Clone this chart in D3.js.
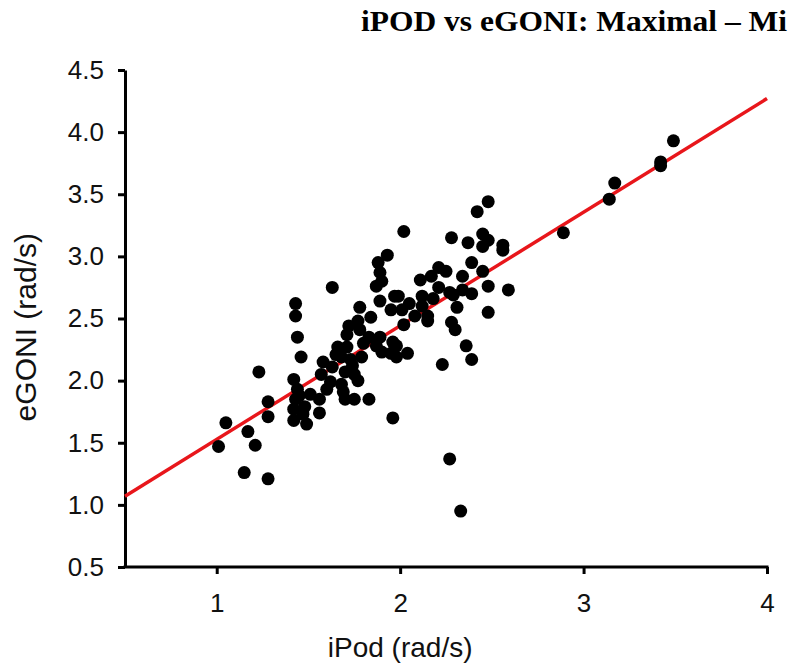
<!DOCTYPE html>
<html>
<head>
<meta charset="utf-8">
<script src="https://cdn.jsdelivr.net/npm/d3@7"></script>
<style>
  body { margin: 0; background: #fff; overflow: hidden; }
  svg { display: block; }
</style>
</head>
<body>
<div id="chart"></div>
<script>
// -----------------------------------------//
//                 Data
// -----------------------------------------//

// the title is cut off in the source picture, kept as shown
var titleText = "iPOD vs eGONI: Maximal \u2013 Mi";
var xTicks = [1, 2, 3, 4];
var yTicks = [0.5, 1.0, 1.5, 2.0, 2.5, 3.0, 3.5, 4.0, 4.5];

// iPod (rad/s)
var ipod = [
  1.01, 1.05, 1.15, 1.17, 1.21, 1.23, 1.28, 1.28, 1.28, 1.42,
  1.43, 1.43, 1.44, 1.46, 1.44, 1.43, 1.42, 1.42, 1.48, 1.49,
  1.51, 1.56, 1.56, 1.57, 1.58, 1.62, 1.63, 1.63, 1.66, 1.68,
  1.68, 1.69, 1.70, 1.70, 1.71, 1.71, 1.73, 1.75, 1.75, 1.77,
  1.77, 1.78, 1.78, 1.79, 1.83, 1.83, 1.84, 1.87, 1.87, 1.88,
  1.89, 1.89, 1.89, 1.90, 1.90, 1.93, 1.95, 1.95, 1.96, 1.96,
  1.97, 1.98, 1.98, 1.99, 2.01, 2.02, 2.02, 2.04, 2.08, 2.11,
  2.12, 2.12, 2.15, 2.15, 2.17, 2.21, 2.21, 2.23, 2.25, 2.27,
  2.27, 2.28, 2.28, 2.29, 2.30, 2.31, 2.34, 2.34, 2.33, 2.36,
  2.37, 2.39, 2.39, 2.39, 2.42, 2.45, 2.48, 2.48, 2.45, 2.56,
  2.56, 2.45, 2.48, 2.48, 2.59, 2.89, 3.14, 3.17, 3.42, 3.42,
  3.49, 1.72, 1.80, 2.05, 2.18, 1.45, 1.47, 1.60, 1.65, 1.74
];
// eGONI (rad/s)
var egoni = [
  1.47, 1.66, 1.26, 1.59, 1.48, 2.07, 1.21, 1.71, 1.83, 2.01,
  2.62, 2.52, 2.35, 2.19, 1.93, 1.85, 1.77, 1.68, 1.79, 1.65,
  1.89, 1.85, 1.74, 2.05, 2.15, 1.99, 2.11, 2.75, 2.27, 2.19,
  1.97, 1.91, 2.07, 1.85, 2.37, 2.27, 2.17, 2.05, 1.85, 2.00,
  2.48, 2.59, 2.41, 2.19, 2.35, 1.85, 2.51, 2.76, 2.28, 2.95,
  2.87, 2.64, 2.35, 2.80, 2.23, 3.01, 2.57, 2.22, 2.31, 1.70,
  2.68, 2.28, 2.19, 2.68, 2.57, 2.45, 3.20, 2.22, 2.52, 2.81,
  2.68, 2.60, 2.52, 2.48, 2.84, 2.91, 2.75, 2.13, 2.88, 1.37,
  2.71, 3.15, 2.47, 2.69, 2.41, 2.59, 2.84, 2.73, 0.95, 2.28,
  3.11, 2.95, 2.70, 2.17, 3.36, 3.18, 3.44, 3.13, 3.08, 3.09,
  3.05, 2.88, 2.76, 2.55, 2.73, 3.19, 3.46, 3.59, 3.73, 3.76,
  3.93, 2.44, 2.30, 2.62, 2.66, 1.88, 1.73, 1.93, 2.21, 2.12
];

// fitted line
var fitX = [0.5, 4.0];
var fitY = [1.07, 4.27];

// -----------------------------------------//
//              SVG Area
// -----------------------------------------//

var svgWidth = 790;
var svgHeight = 668;

var margin = { top: 70, right: 23, bottom: 100, left: 125 };
var width = svgWidth - margin.left - margin.right;
var height = svgHeight - margin.top - margin.bottom;

var svg = d3.select("#chart")
  .append("svg")
  .attr("width", svgWidth)
  .attr("height", svgHeight);

svg.append("text")
  .attr("x", 361)
  .attr("y", 31)
  .attr("textLength", 426)
  .attr("lengthAdjust", "spacingAndGlyphs")
  .style("font-family", "'Liberation Serif', 'Times New Roman', serif")
  .style("font-weight", "bold")
  .style("font-size", "29px")
  .attr("fill", "#000")
  .text(titleText);

var chartGroup = svg.append("g")
  .attr("transform", `translate(${margin.left}, ${margin.top})`);

var xScale = d3.scaleLinear().domain([0.5, 4]).range([0, width]);
var yScale = d3.scaleLinear().domain([0.5, 4.5]).range([height - 1, 0]);

// -----------------------------------------//
//                Axes
// -----------------------------------------//

var bottomAxis = d3.axisBottom(xScale)
  .tickValues(xTicks)
  .tickFormat(d3.format("d"))
  .tickSize(7)
  .tickSizeOuter(0)
  .tickPadding(20);

var leftAxis = d3.axisLeft(yScale)
  .tickValues(yTicks)
  .tickFormat(d3.format(".1f"))
  .tickSize(7)
  .tickSizeOuter(0)
  .tickPadding(14);

var xAxis = chartGroup.append("g")
  .attr("transform", `translate(0, ${height - 1})`)
  .call(bottomAxis);

var yAxis = chartGroup.append("g")
  .call(leftAxis);

[xAxis, yAxis].forEach(function(ax) {
  ax.select(".domain").attr("stroke", "#000").attr("stroke-width", 3);
  ax.selectAll(".tick line").attr("stroke", "#000").attr("stroke-width", 3);
  ax.selectAll(".tick text")
    .attr("fill", "#111")
    .style("font-family", "'Liberation Sans', Arial, sans-serif")
    .style("font-size", "26px");
});

// extend axis line to the 4 tick end
xAxis.select(".domain").attr("d", `M-1.5,0H${width + 1.5}`);

// axis titles
chartGroup.append("text")
  .attr("x", xScale(2))
  .attr("y", 587)
  .attr("text-anchor", "middle")
  .style("font-family", "'Liberation Sans', Arial, sans-serif")
  .style("font-size", "28px")
  .attr("fill", "#111")
  .text("iPod (rad/s)");

chartGroup.append("text")
  .attr("transform", "rotate(-90)")
  .attr("x", -(yScale(2.43)))
  .attr("y", -89)
  .attr("text-anchor", "middle")
  .style("font-family", "'Liberation Sans', Arial, sans-serif")
  .style("font-size", "30px")
  .attr("fill", "#111")
  .text("eGONI (rad/s)");

// -----------------------------------------//
//             Line and points
// -----------------------------------------//

var fitData = fitX.map((x, i) => ({ x: x, y: fitY[i] }));

chartGroup.append("path")
  .datum(fitData)
  .attr("fill", "none")
  .attr("stroke", "#e8161b")
  .attr("stroke-width", 3.5)
  .attr("d", d3.line().x(d => xScale(d.x)).y(d => yScale(d.y)));

var points = ipod.map((x, i) => ({ x: x, y: egoni[i] }));

chartGroup.selectAll("circle")
  .data(points)
  .enter()
  .append("circle")
  .attr("cx", d => xScale(d.x))
  .attr("cy", d => yScale(d.y))
  .attr("r", 6.5)
  .attr("fill", "#000");
</script>
</body>
</html>
